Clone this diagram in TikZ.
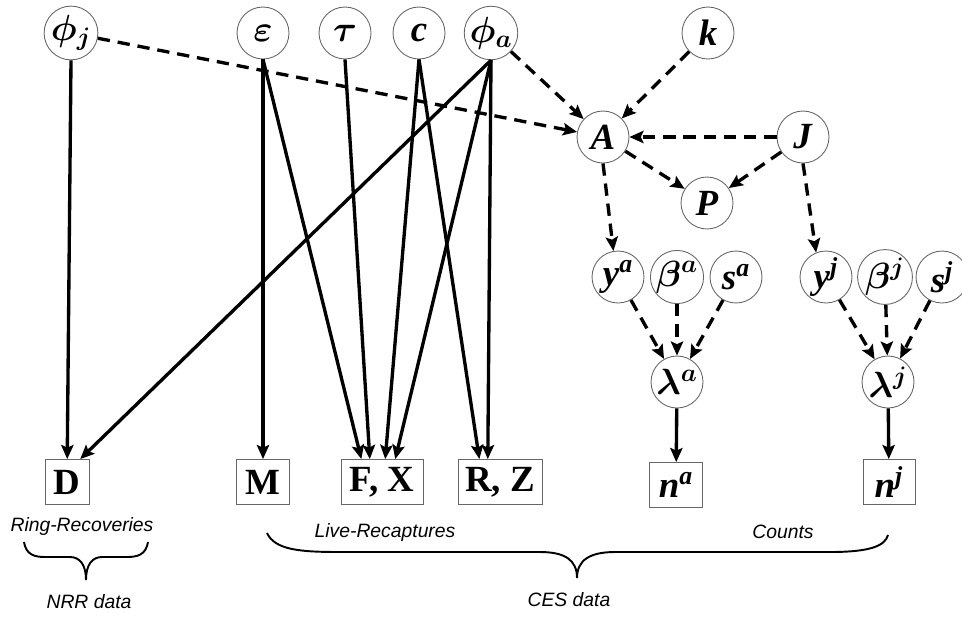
\documentclass[tikz,border=0pt]{standalone}
\usepackage{amsmath,amssymb}
\usepackage{fontspec}
\setmainfont{Liberation Serif}
\setsansfont{Liberation Sans}
\usepackage{tikz}
\usetikzlibrary{arrows.meta,positioning,calc}
\tikzset{var/.style={draw=gray!80!black,circle,line width=0.5pt,minimum size=1.04cm,inner sep=0pt,
    font=\fontsize{21}{25}\selectfont},
  data/.style={draw=gray!80!black,rectangle,line width=0.5pt,minimum height=0.9cm,inner sep=0pt,
    font=\fontsize{21}{25}\selectfont\bfseries},
  dep/.style={dash pattern=on 7pt off 4.5pt},
  lbl/.style={font=\sffamily\itshape\fontsize{11}{13}\selectfont}}
\newcommand{\bi}[1]{\textbf{\textit{#1}}}

\begin{document}
\begin{tikzpicture}[x=0.02cm, y=-0.02cm, ->, >={Stealth[length=8pt,width=7pt,inset=1.5pt]}, line width=1.9pt]
        \useasboundingbox (0,0) rectangle (962,616);
        % parameters
        \node[var] (phij) at (71,33) {$\boldsymbol{\phi_j}$};
        \node[var] (eps) at (263,33) {$\boldsymbol{\varepsilon}$};
        \node[var] (tau) at (345,33) {$\boldsymbol{\tau}$};
        \node[var] (c) at (419,33) {\bi{c}};
        \node[var] (phia) at (491,33) {$\boldsymbol{\phi_a}$};
        \node[var] (k) at (708,33) {\bi{k}};
        \node[var] (A) at (603,137) {\bi{A}};
        \node[var] (J) at (803,137) {\bi{J}};
        \node[var] (P) at (707,203) {\bi{P}};
        \node[var] (ya) at (618,277) {\bi{y}\textsuperscript{\bi{a}}};
        \node[var] (ba) at (677,277) {$\boldsymbol{\beta^a}$};
        \node[var] (sa) at (736,277) {\bi{s}\textsuperscript{\bi{a}}};
        \node[var] (yj) at (826,277) {\bi{y}\textsuperscript{\bi{j}}};
        \node[var] (bj) at (885,277) {$\boldsymbol{\beta^j}$};
        \node[var] (sj) at (942,277) {\bi{s}\textsuperscript{\bi{j}}};
        \node[var] (lama) at (677,382) {$\boldsymbol{\lambda^a}$};
        \node[var] (lamj) at (888,382) {$\boldsymbol{\lambda^j}$};
        % data
        \node[data,minimum width=0.88cm] (D) at (67,482) {D};
        \node[data,minimum width=1.06cm] (M) at (263,482) {M};
        \node[data,minimum width=1.64cm] (FX) at (382,482) {F, X};
        \node[data,minimum width=1.68cm] (RZ) at (500,482) {R, Z};
        \node[data,minimum width=1.06cm] (na) at (676,485) {\bi{n}\textsuperscript{\bi{a}}};
        \node[data,minimum width=1.04cm] (nj) at (889,482) {\bi{n}\textsuperscript{\bi{j}}};
        % solid links
        \draw (phij.south) -- (D);
        \draw (phia.south) -- (D.60);
        \draw (eps.south) -- (M);
        \draw (eps.south) -- (FX.132);
        \draw (tau.south) -- (FX.118);
        \draw (c.south) -- (FX.82);
        \draw (phia.south) -- (FX.60);
        \draw (c.south) -- (RZ.132);
        \draw (phia.south) -- (RZ.118);
        \draw (lama) -- (na);
        \draw (lamj) -- (nj);
        % dashed links
        \draw[dep] (phij) -- (A);
        \draw[dep] (phia) -- (A);
        \draw[dep] (k) -- (A);
        \draw[dep] (J) -- (A);
        \draw[dep] (A) -- (P);
        \draw[dep] (J) -- (P);
        \draw[dep] (A.south) -- (ya.100);
        \draw[dep] (J.south) -- (yj.112);
        \draw[dep] (ya) -- (lama);
        \draw[dep] (ba) -- (lama);
        \draw[dep] (sa) -- (lama);
        \draw[dep] (yj) -- (lamj);
        \draw[dep] (bj) -- (lamj);
        \draw[dep] (sj) -- (lamj);
        % labels and braces
        \node[lbl] (rr) at (82,526) {Ring-Recoveries};
        \node[lbl] (lr) at (385,532) {Live-Recaptures};
        \node[lbl] (cnt) at (783,532) {Counts};
        \node[lbl] (nrr) at (89,602) {NRR data};
        \node[lbl] (ces) at (569,600) {CES data};
        \draw[-, line width=1.1pt] (24,542) .. controls (26,555) and (35,557) .. (45,557) -- (70,557)
          .. controls (80,557) and (86,565) .. (86,580) .. controls (86,565) and (92,557) .. (102,557)
          -- (127,557) .. controls (137,557) and (146,555) .. (148,542);
        \draw[-, line width=1.1pt] (267,533) .. controls (275,550) and (300,552) .. (340,552) -- (540,552)
          .. controls (565,552) and (577,560) .. (577,578) .. controls (577,560) and (590,552) .. (615,552)
          -- (830,552) .. controls (870,552) and (885,546) .. (888,535);
\end{tikzpicture}
\end{document}
